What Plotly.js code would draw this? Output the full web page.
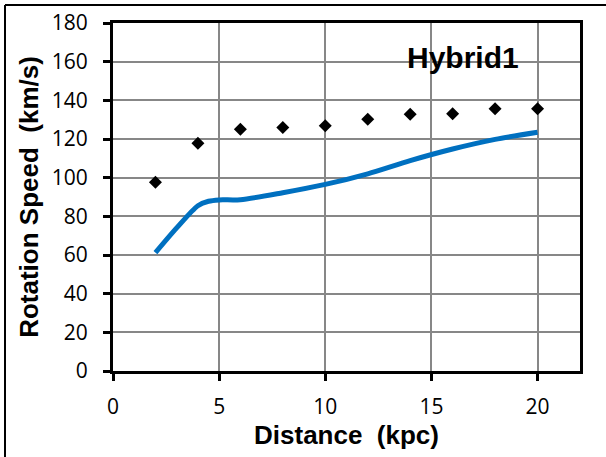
<!DOCTYPE html>
<html>
<head>
<meta charset="utf-8">
<script src="https://cdn.plot.ly/plotly-3.0.1.min.js"></script>
<style>html,body{margin:0;padding:0;background:#fff;}#chart{width:606px;height:457px;}</style>
</head>
<body>
<div id="chart"></div>
<script>
// Observed rotation speeds (diamonds)
const obsDistance = [2, 4, 6, 8, 10, 12, 14, 16, 18, 20];
const obsSpeed = [97.6, 117.8, 125.0, 126.0, 126.8, 130.2, 132.8, 133.1, 135.7, 135.7];
// Model curve (Hybrid1)
const modelDistance = [2, 3, 4, 4.5, 5, 6, 8, 10, 12, 14, 16, 18, 20];
const modelSpeed = [61.2, 74, 85.5, 87.8, 88.5, 88.6, 92.2, 96.5, 102, 108.8, 114.8, 119.8, 123.5];
const xTicks = [0, 5, 10, 15, 20];
const yTicks = [0, 20, 40, 60, 80, 100, 120, 140, 160, 180];

const tickFont = {size: 21, family: 'Open Sans, Liberation Sans, sans-serif', color: '#000'};
const titleFont = {size: 26, family: 'Liberation Sans, Arial, sans-serif', color: '#000'};

const traces = [
  {
    x: modelDistance, y: modelSpeed, mode: 'lines', type: 'scatter',
    line: {color: '#0070C0', width: 5, shape: 'spline', smoothing: 0.8},
    hoverinfo: 'skip', showlegend: false
  },
  {
    x: obsDistance, y: obsSpeed, mode: 'markers', type: 'scatter',
    marker: {symbol: 'diamond', size: 10, color: '#000000'},
    showlegend: false
  }
];

const L = 113, R = 26, T = 23, B = 86, W = 606, H = 457;
const pw = W - L - R, ph = H - T - B;
const fx = px => (px - L) / pw;
const fy = py => (H - B - py) / ph;

const layout = {
  width: W, height: H,
  margin: {l: L, r: R, t: T, b: B},
  paper_bgcolor: '#ffffff', plot_bgcolor: '#ffffff',
  font: {family: 'Liberation Sans, Arial, sans-serif', color: '#000'},
  xaxis: {
    range: [0, 22], tickvals: xTicks, ticktext: xTicks.map(String),
    showgrid: true, gridcolor: '#878787', gridwidth: 2,
    showline: true, linecolor: '#000', linewidth: 3, mirror: true,
    ticks: 'outside', ticklen: 7, tickwidth: 3, tickcolor: '#000',
    ticklabelstandoff: 8,
    tickfont: tickFont,
    zeroline: false,
    title: {text: '<b>Distance&nbsp; (kpc)</b>', font: titleFont, standoff: 2}
  },
  yaxis: {
    range: [0, 180], tickvals: yTicks, ticktext: yTicks.map(String),
    showgrid: true, gridcolor: '#878787', gridwidth: 2,
    showline: true, linecolor: '#000', linewidth: 3, mirror: true,
    ticks: 'outside', ticklen: 7, tickwidth: 3, tickcolor: '#000',
    ticklabelstandoff: 11,
    tickfont: tickFont,
    zeroline: false,
    title: {text: '<b>Rotation Speed&nbsp; (km/s)</b>', font: titleFont, standoff: 6}
  },
  annotations: [{
    xref: 'paper', yref: 'paper', x: fx(463), y: fy(58),
    xanchor: 'center', yanchor: 'middle',
    text: '<b>Hybrid1</b>', showarrow: false,
    font: {size: 30, family: 'Liberation Sans, Arial, sans-serif', color: '#000'}
  }],
  shapes: [
    {type: 'line', xref: 'paper', yref: 'paper', x0: fx(5), x1: fx(620), y0: fy(5), y1: fy(5), line: {color: '#000', width: 2}},
    {type: 'line', xref: 'paper', yref: 'paper', x0: fx(5), x1: fx(5), y0: fy(5), y1: fy(470), line: {color: '#000', width: 2}}
  ]
};

Plotly.newPlot('chart', traces, layout, {displayModeBar: false, staticPlot: true});
</script>
</body>
</html>
